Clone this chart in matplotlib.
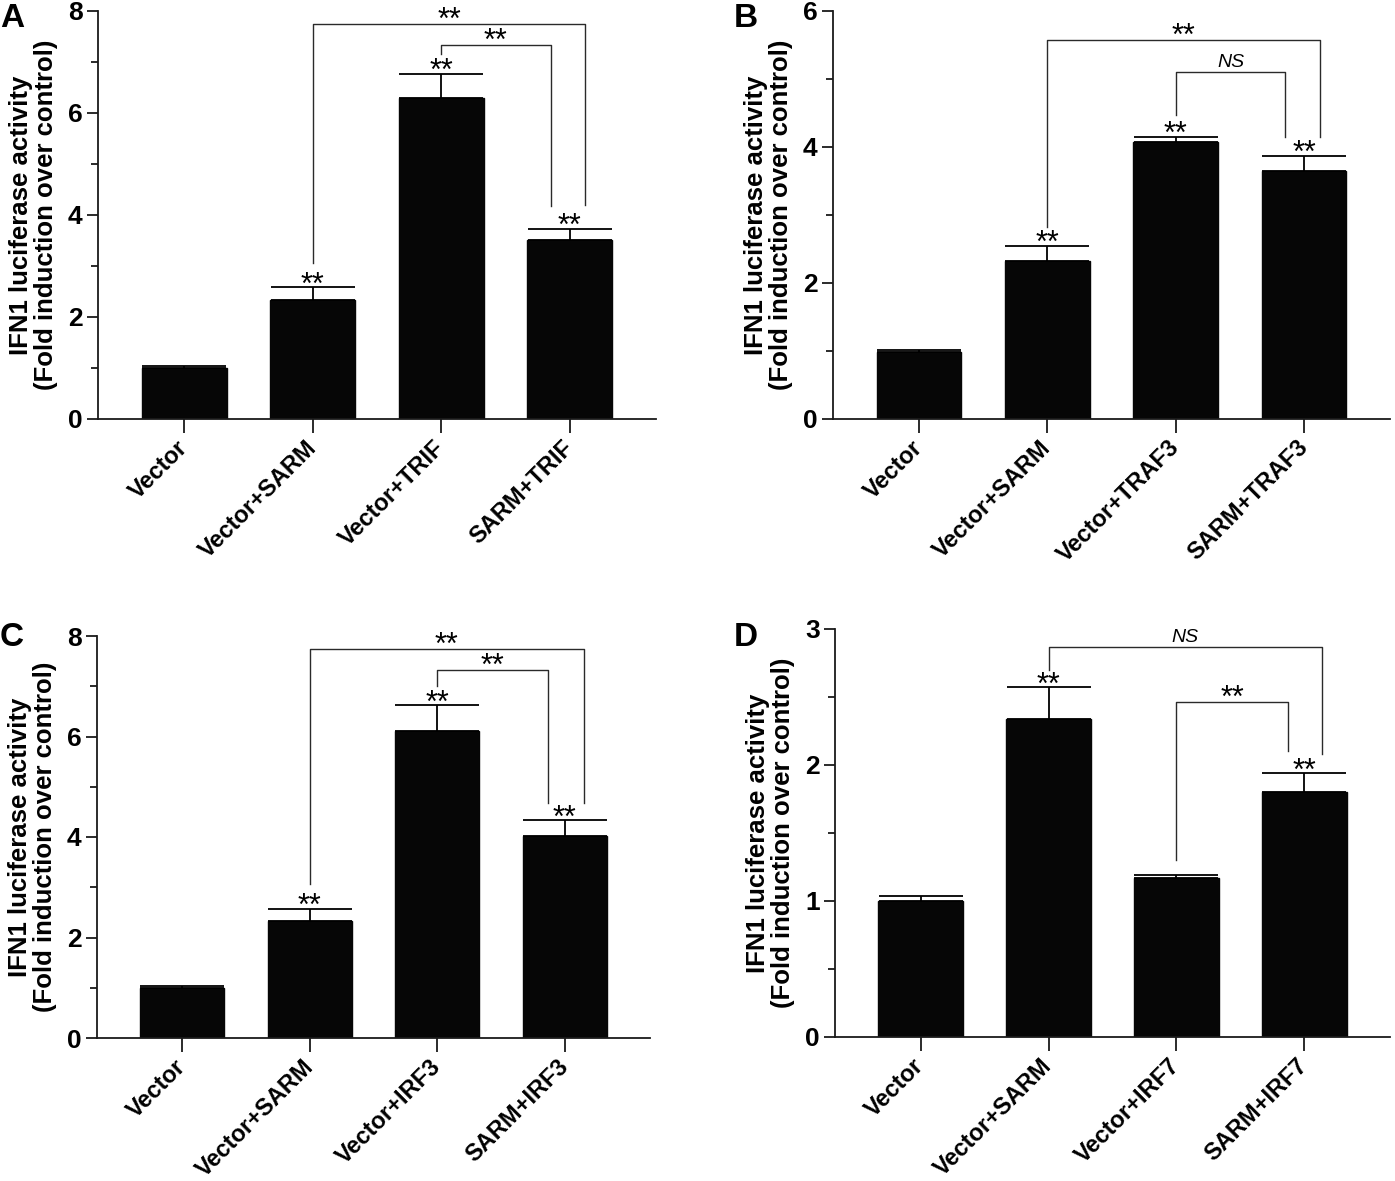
import matplotlib
matplotlib.use("Agg")
import matplotlib.pyplot as plt
from matplotlib.ticker import MultipleLocator

plt.rcParams['font.family'] = ['Liberation Sans', 'DejaVu Sans']

# ---- data ----
cats_A = ['Vector', 'Vector+SARM', 'Vector+TRIF', 'SARM+TRIF']
vals_A = [1.00, 2.34, 6.29, 3.51]
err_A = [0.04, 0.24, 0.48, 0.22]
star_A = [False, True, True, True]

cats_B = ['Vector', 'Vector+SARM', 'Vector+TRAF3', 'SARM+TRAF3']
vals_B = [0.99, 2.33, 4.08, 3.65]
err_B = [0.03, 0.22, 0.07, 0.22]
star_B = [False, True, True, True]

cats_C = ['Vector', 'Vector+SARM', 'Vector+IRF3', 'SARM+IRF3']
vals_C = [1.00, 2.33, 6.11, 4.02]
err_C = [0.03, 0.24, 0.51, 0.31]
star_C = [False, True, True, True]

cats_D = ['Vector', 'Vector+SARM', 'Vector+IRF7', 'SARM+IRF7']
vals_D = [1.00, 2.34, 1.17, 1.80]
err_D = [0.04, 0.23, 0.02, 0.14]
star_D = [False, True, False, True]

# brackets: (x_left, x_right, y_top, y_left_end, y_right_end, label)
br_A = [(1, 3.12, 7.75, 3.05, 4.20, '**'), (2, 2.85, 7.34, 7.15, 4.17, '**')]
br_B = [(1, 3.125, 5.58, 2.82, 4.15, '**'), (2, 2.855, 5.10, 4.47, 4.15, 'NS')]
br_C = [(1, 3.15, 7.74, 3.06, 4.68, '**'), (2, 2.87, 7.32, 7.00, 4.68, '**')]
br_D = [(1, 3.14, 2.87, 2.70, 2.08, 'NS'), (2, 2.875, 2.46, 1.30, 2.10, '**')]

W, H = 1395, 1181
fig = plt.figure(figsize=(W / 100, H / 100), dpi=100)


def px_axes(left, right, top, bottom):
    return fig.add_axes([left / W, 1 - bottom / H, (right - left) / W, (bottom - top) / H])


def panel(ax, cats, vals, err, stars, brackets, ymax, major, minor, letter, lx, ly):
    x = list(range(len(cats)))
    ax.bar(x, vals, width=0.66, color='#060606', edgecolor='#060606', zorder=2)
    ax.errorbar(x, vals, yerr=[[0] * len(err), err], fmt='none', ecolor='black',
                elinewidth=1.3, capsize=30, capthick=1.3, zorder=3)
    ax.set_xlim(-0.67, 3.67)
    ax.set_ylim(0, ymax)
    ax.spines['top'].set_visible(False)
    ax.spines['right'].set_visible(False)
    for s in ('left', 'bottom'):
        ax.spines[s].set_linewidth(1.3)
        ax.spines[s].set_color('#1a1a1a')
    ax.yaxis.set_major_locator(MultipleLocator(major))
    ax.yaxis.set_minor_locator(MultipleLocator(minor))
    ax.tick_params(axis='y', which='major', length=8, width=1.3, pad=3, color='#1a1a1a')
    ax.tick_params(axis='y', which='minor', length=5, width=1.3, color='#1a1a1a')
    ax.tick_params(axis='x', length=10, width=1.3, pad=8, color='#1a1a1a')
    ax.set_xticks(x)
    ax.set_xticklabels(cats, rotation=45, ha='right', va='center', rotation_mode='anchor',
                       fontsize=17, fontweight='bold')
    for t in ax.get_yticklabels():
        t.set_fontsize(19)
        t.set_fontweight('bold')
    ax.set_ylabel('IFN1 luciferase activity\n(Fold induction over control)',
                  fontsize=18.5, fontweight='bold', linespacing=1.05)
    ax.yaxis.set_label_coords(-0.072, 0.5)

    for xi, v, e, s in zip(x, vals, err, stars):
        if s:
            ax.annotate('**', xy=(xi, v + e), xytext=(0, -4.5), textcoords='offset points',
                        ha='center', va='baseline', fontsize=22, annotation_clip=False)

    for xl, xr, yt, yl, yr, lab in brackets:
        ax.plot([xl, xl, xr, xr], [yl, yt, yt, yr], color='#2a2a2a', lw=1.0,
                clip_on=False, zorder=3)
        if lab == 'NS':
            ax.annotate('NS', xy=((xl + xr) / 2, yt), xytext=(0, 3.5), textcoords='offset points',
                        ha='center', va='baseline', fontsize=14, fontstyle='italic',
                        annotation_clip=False)
        else:
            ax.annotate('**', xy=((xl + xr) / 2, yt), xytext=(0, -3.5), textcoords='offset points',
                        ha='center', va='baseline', fontsize=22, annotation_clip=False)

    fig.text(lx / W, 1 - ly / H, letter, fontsize=24, fontweight='bold', ha='left', va='top')


axA = px_axes(98, 656, 11, 419)
panel(axA, cats_A, vals_A, err_A, star_A, br_A, 8, 2, 1, 'A', 0, 3)

axB = px_axes(833, 1390, 11, 419)
panel(axB, cats_B, vals_B, err_B, star_B, br_B, 6, 2, 1, 'B', 734, 3)

axC = px_axes(97, 650, 636, 1038)
panel(axC, cats_C, vals_C, err_C, star_C, br_C, 8, 2, 1, 'C', 0, 622)

axD = px_axes(835, 1390, 629, 1037)
panel(axD, cats_D, vals_D, err_D, star_D, br_D, 3, 1, 0.5, 'D', 734, 622)

fig.savefig('out.png', dpi=100)
